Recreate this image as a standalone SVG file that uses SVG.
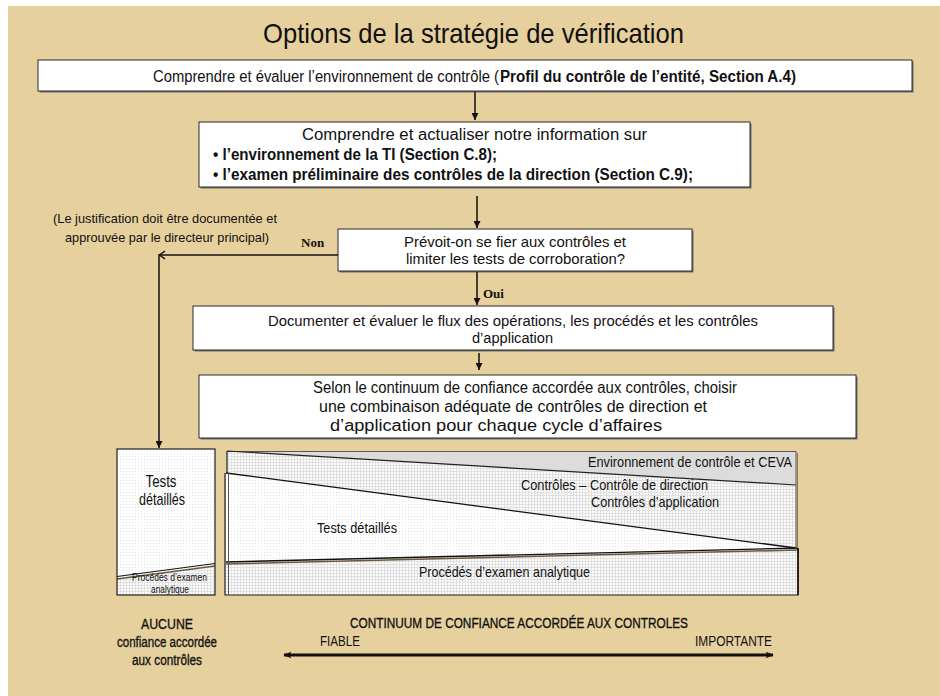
<svg xmlns="http://www.w3.org/2000/svg" width="940" height="696" viewBox="0 0 940 696">
  <style>
    .n { font-family: "Liberation Sans Narrow", "Liberation Sans", Arial, sans-serif; fill: #111; }
    .b { font-weight: bold; }
    .m { stroke: #111; stroke-width: 0.35; }
    .s { font-family: "Liberation Serif", "Times New Roman", serif; font-weight: bold; font-size: 13px; fill: #111; }
    .box { fill: #fff; stroke: #2a2a2a; stroke-width: 1; }
    .shadow { fill: #6e6e6e; }
    .ln { fill: none; stroke: #111; stroke-width: 1.5; }
    .edge { fill: none; stroke: #222; stroke-width: 1.2; }
  </style>
  <defs>
    <marker id="ah" viewBox="0 0 10 10" refX="10" refY="5" markerWidth="7" markerHeight="7" markerUnits="userSpaceOnUse" orient="auto">
      <path d="M0,0 L10,5 L0,10 z" fill="#111"/>
    </marker>
    <marker id="ahb" viewBox="0 0 10 10" refX="9" refY="5" markerWidth="10" markerHeight="8" markerUnits="userSpaceOnUse" orient="auto-start-reverse">
      <path d="M0,1 L10,5 L0,9 L2,5 z" fill="#111"/>
    </marker>
    <pattern id="dots" width="3" height="3" patternUnits="userSpaceOnUse">
      <rect width="3" height="3" fill="#fff"/>
      <rect width="1" height="1" fill="#e2e2e2"/>
    </pattern>
    <pattern id="grid" width="3" height="3" patternUnits="userSpaceOnUse">
      <rect width="3" height="3" fill="#fcfcfc"/>
      <path d="M0 0.5H3M0.5 0V3" stroke="#e0e0e0" stroke-width="1"/>
    </pattern>
  </defs>

  <!-- page background -->
  <rect x="0" y="0" width="940" height="696" fill="#fff"/>
  <rect x="8" y="6" width="932" height="690" fill="#E6D09D"/>

  <text class="n" x="263" y="43" font-size="28" textLength="421" lengthAdjust="spacingAndGlyphs">Options de la stratégie de vérification</text>

  <!-- step 1 -->
  <g id="step-environnement">
    <rect class="shadow" x="39.5" y="61.5" width="874" height="31"/>
    <rect class="box" x="38" y="60" width="874" height="31"/>
    <text class="n" x="153" y="82" font-size="16" textLength="346" lengthAdjust="spacingAndGlyphs">Comprendre et évaluer l’environnement de contrôle (</text>
    <text class="n b" x="500" y="82" font-size="16" textLength="296" lengthAdjust="spacingAndGlyphs">Profil du contrôle de l’entité, Section A.4)</text>
  </g>

  <!-- step 2 -->
  <g id="step-information">
    <rect class="shadow" x="200.5" y="123.5" width="551" height="65"/>
    <rect class="box" x="199" y="122" width="551" height="65"/>
    <text class="n" x="302" y="140" font-size="16" textLength="345" lengthAdjust="spacingAndGlyphs">Comprendre et actualiser notre information sur</text>
    <text class="n b" x="213" y="160" font-size="16" textLength="284" lengthAdjust="spacingAndGlyphs">• l’environnement de la TI  (Section C.8);</text>
    <text class="n b" x="213" y="180" font-size="16" textLength="480" lengthAdjust="spacingAndGlyphs">• l’examen préliminaire des contrôles de la direction  (Section C.9);</text>
  </g>

  <!-- decision -->
  <g id="decision">
    <rect class="shadow" x="339.5" y="230.5" width="354" height="42"/>
    <rect class="box" x="338" y="229" width="354" height="42"/>
    <text class="n" x="404" y="247" font-size="15" textLength="222" lengthAdjust="spacingAndGlyphs">Prévoit-on se fier aux contrôles et</text>
    <text class="n" x="406" y="264" font-size="15" textLength="219" lengthAdjust="spacingAndGlyphs">limiter les tests de corroboration?</text>
  </g>

  <!-- justification note -->
  <g id="note-justification">
    <text class="n" x="53" y="223" font-size="13.5" fill="#222" textLength="224" lengthAdjust="spacingAndGlyphs">(Le justification doit être documentée et</text>
    <text class="n" x="65" y="242" font-size="13.5" fill="#222" textLength="204" lengthAdjust="spacingAndGlyphs">approuvée par le directeur principal)</text>
  </g>

  <!-- step 3 -->
  <g id="step-flux">
    <rect class="shadow" x="194.5" y="307.5" width="640" height="44"/>
    <rect class="box" x="193" y="306" width="640" height="44"/>
    <text class="n" x="268" y="326" font-size="15.5" textLength="490" lengthAdjust="spacingAndGlyphs">Documenter et évaluer le flux des opérations, les procédés et les contrôles</text>
    <text class="n" x="472" y="343" font-size="15.5" textLength="81" lengthAdjust="spacingAndGlyphs">d’application</text>
  </g>

  <!-- step 4 -->
  <g id="step-combinaison">
    <rect class="shadow" x="200.5" y="376.5" width="657" height="63"/>
    <rect class="box" x="199" y="375" width="657" height="63"/>
    <text class="n" x="313" y="393" font-size="16" textLength="424" lengthAdjust="spacingAndGlyphs">Selon le continuum de confiance accordée aux contrôles, choisir</text>
    <text class="n" x="319" y="412" font-size="16" textLength="388" lengthAdjust="spacingAndGlyphs">une combinaison adéquate de contrôles de direction et</text>
    <text class="n" x="330" y="431" font-size="16" textLength="332" lengthAdjust="spacingAndGlyphs">d’application pour chaque cycle d’affaires</text>
  </g>

  <!-- no-reliance column -->
  <g id="tests-detailles-seuls">
    <rect x="117" y="449" width="98" height="146" fill="url(#dots)"/>
    <polygon points="117,578 215,565 215,595 117,595" fill="url(#grid)"/>
    <line x1="117" y1="579" x2="215" y2="566" stroke="#6b5a3a" stroke-width="1.5"/>
    <line x1="117" y1="576.5" x2="215" y2="563.5" stroke="#111" stroke-width="1.2"/>
    <rect x="117" y="449" width="98" height="146" fill="none" stroke="#222" stroke-width="1.2"/>
    <text class="n" x="161" y="487" font-size="17" text-anchor="middle" textLength="31" lengthAdjust="spacingAndGlyphs">Tests</text>
    <text class="n" x="162" y="505" font-size="17" text-anchor="middle" textLength="46" lengthAdjust="spacingAndGlyphs">détaillés</text>
    <text class="n" x="132" y="581" font-size="11" fill="#4a4a4a" textLength="75" lengthAdjust="spacingAndGlyphs">Procédés d’examen</text>
    <text class="n" x="151" y="593" font-size="11" fill="#4a4a4a" textLength="38" lengthAdjust="spacingAndGlyphs">analytique</text>
  </g>

  <!-- reliance continuum chart -->
  <g id="continuum-chart">
    <rect x="227" y="451" width="569" height="98" fill="url(#grid)"/>
    <polygon points="227,451.5 796,451.5 796,485" fill="#dcdcdc"/>
    <polygon points="226,473 796,548 226,562" fill="url(#dots)"/>
    <polygon points="225,562 798,548 798,595 225,595" fill="url(#grid)"/>
    <!-- boundaries -->
    <line x1="227" y1="451.5" x2="796" y2="451.5" stroke="#555" stroke-width="1"/>
    <line x1="227" y1="451" x2="796" y2="485" stroke="#222" stroke-width="1.2"/>
    <line x1="226" y1="473" x2="796" y2="548" stroke="#111" stroke-width="1.3"/>
    <line x1="226" y1="564" x2="798" y2="550" stroke="#6b5a3a" stroke-width="1.5"/>
    <line x1="226" y1="562" x2="798" y2="548" stroke="#111" stroke-width="1.4"/>
    <path class="edge" d="M227,451 V474"/>
    <path class="edge" d="M225,473 V595 H798 V548"/>
    <path d="M228.5,473 V595" stroke="#555" stroke-width="1" fill="none"/>
    <path d="M796,451.5 V548" stroke="#555" stroke-width="1" fill="none"/>
    <path d="M797.5,453 V548" stroke="#8a7a55" stroke-width="1" fill="none"/>
    <path d="M798,548 V595" stroke="#111" stroke-width="1.6" fill="none"/>
    <text class="n" x="588" y="467" font-size="15" textLength="204" lengthAdjust="spacingAndGlyphs">Environnement de contrôle et  CEVA</text>
    <text class="n" x="521" y="490" font-size="15" textLength="187" lengthAdjust="spacingAndGlyphs">Contrôles – Contrôle  de direction</text>
    <text class="n" x="591" y="507" font-size="15" textLength="128" lengthAdjust="spacingAndGlyphs">Contrôles d’application</text>
    <text class="n" x="317" y="533" font-size="15" textLength="80" lengthAdjust="spacingAndGlyphs">Tests détaillés</text>
    <text class="n" x="419" y="577" font-size="15" textLength="171" lengthAdjust="spacingAndGlyphs">Procédés d’examen analytique</text>
  </g>

  <!-- bottom legend -->
  <g id="legend-aucune">
    <text class="n m" x="167" y="629" font-size="15.5" text-anchor="middle" textLength="52" lengthAdjust="spacingAndGlyphs">AUCUNE</text>
    <text class="n m" x="167" y="647" font-size="15.5" text-anchor="middle" textLength="100" lengthAdjust="spacingAndGlyphs">confiance accordée</text>
    <text class="n m" x="167" y="665" font-size="15.5" text-anchor="middle" textLength="70" lengthAdjust="spacingAndGlyphs">aux contrôles</text>
  </g>
  <g id="legend-continuum">
    <text class="n m" x="350" y="628" font-size="15" textLength="338" lengthAdjust="spacingAndGlyphs">CONTINUUM DE CONFIANCE ACCORDÉE AUX CONTROLES</text>
    <text class="n" x="320" y="646" font-size="14" fill="#333" textLength="40" lengthAdjust="spacingAndGlyphs">FIABLE</text>
    <text class="n" x="695" y="646" font-size="14" fill="#333" textLength="77" lengthAdjust="spacingAndGlyphs">IMPORTANTE</text>
  </g>

  <!-- connectors -->
  <g id="connectors">
    <line class="ln" x1="475" y1="92" x2="475" y2="120" marker-end="url(#ah)"/>
    <line class="ln" x1="477" y1="196" x2="477" y2="228" marker-end="url(#ah)"/>
    <line class="ln" x1="477" y1="272" x2="477" y2="305" marker-end="url(#ah)"/>
    <line class="ln" x1="479" y1="353" x2="479" y2="370" marker-end="url(#ah)"/>
    <path class="ln" d="M338,255 H159 V448" marker-end="url(#ah)"/>
    <path d="M165,251 L159.5,255 L165,259" fill="none" stroke="#111" stroke-width="1.5"/>
    <line x1="284" y1="655" x2="773" y2="655" stroke="#111" stroke-width="3" marker-start="url(#ahb)" marker-end="url(#ahb)"/>
    <text class="s" x="301" y="247">Non</text>
    <text class="s" x="483" y="298">Oui</text>
  </g>
</svg>
